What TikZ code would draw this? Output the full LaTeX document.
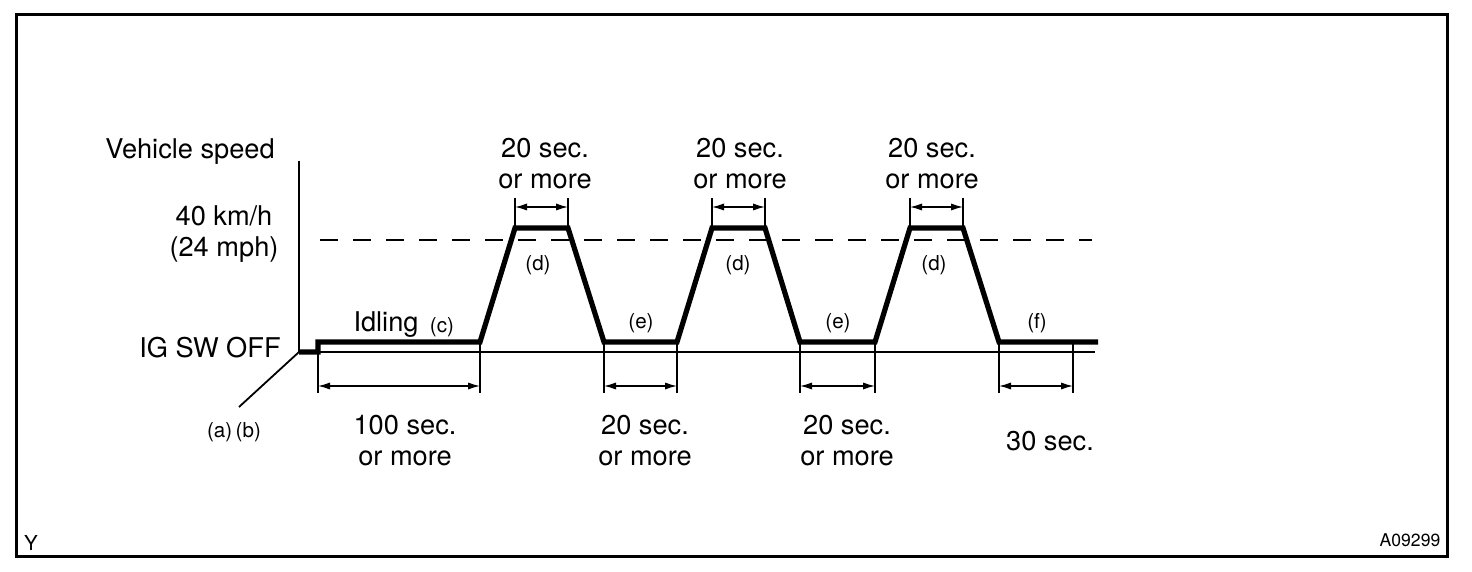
\documentclass[tikz,border=0pt]{standalone}
\usepackage{fontspec}
\setmainfont{TeX Gyre Heros}
\usetikzlibrary{arrows.meta}

\tikzset{drivecycle/.style={x=0.5pt,y=-0.5pt,font=\fontsize{13.6}{15.5}\selectfont},
  frameline/.style={line width=1.5pt},
  thinline/.style={line width=0.9pt},
  profile/.style={line width=2.6pt,line join=miter},
  speedlevel/.style={line width=1.3pt,dash pattern=on 9pt off 7.5pt},
  extline/.style={line width=0.7pt},
  dimarrow/.style={line width=0.7pt,{Latex[length=6pt,width=3.6pt]}-{Latex[length=6pt,width=3.6pt]}},
  smalllabel/.style={font=\fontsize{10.3}{12}\selectfont},
  timelabel/.style={align=center}}

\begin{document}
\begin{tikzpicture}[drivecycle]
    \def\base{342}\def\top{228}\def\zero{352}
    \useasboundingbox (0,0) rectangle (1472,572);
    \draw[frameline] (16,15) rectangle (1447,556); % outer frame
    \draw[thinline] (299,161) -- (299,\zero) -- (1095,\zero); % axes
    \draw[thinline] (299,\zero) -- (239,407); % IG SW line
    \draw[speedlevel] (320,240) -- (1092,240); % 40 km/h level
    \draw[profile] (299,\zero) -- (318,\zero) -- (318,\base)
      foreach \a/\b/\c/\d in {480/515/568/604,677/712/765/800,875/910/963/999}
        { -- (\a,\base) -- (\b,\top) -- (\c,\top) -- (\d,\base) } -- (1098,\base); % speed profile
    \foreach \a/\b in {318/480,604/677,800/875,999/1073} {
      \draw[extline] (\a,\base) -- (\a,393) (\b,\base) -- (\b,393);
      \draw[dimarrow] (\a,386) -- (\b,386); } % bottom times
    \foreach \a/\b in {515/568,712/765,910/963} {
      \draw[extline] (\a,198) -- (\a,\top) (\b,198) -- (\b,\top);
      \draw[dimarrow] (\a,207) -- (\b,207); } % top times
    \node (vspeed) at (190,152) {Vehicle speed};
    \node[timelabel] (kmh) at (224,234) {40 km/h\\(24 mph)};
    \node (igoff) at (210,348) {IG SW OFF};
    \node (idling) at (386,325) {Idling};
    \node[smalllabel] (c) at (442,327) {(c)};
    \node[smalllabel] (ab) at (234,432) {(a)\,(b)};
    \node[timelabel] (t100) at (405,441) {100 sec.\\or more};
    \foreach \x [count=\i] in {545,740,932} \node[timelabel] (top\i) at (\x,164) {20 sec.\\or more}; % top labels
    \foreach \x [count=\i] in {538,738,934} \node[smalllabel] (d\i) at (\x,265) {(d)};
    \foreach \x [count=\i] in {641,838} \node[smalllabel] (e\i) at (\x,323) {(e)};
    \node[smalllabel] (f) at (1037,323) {(f)};
    \foreach \x [count=\i] in {645,847} \node[timelabel] (bot\i) at (\x,441) {20 sec.\\or more}; % bottom labels
    \node (t30) at (1050,441) {30 sec.};
    \node[smalllabel] (ycode) at (31,543) {Y};
    \node[font=\fontsize{8.8}{10}\selectfont] (fig) at (1410,540) {A09299};
\end{tikzpicture}
\end{document}
